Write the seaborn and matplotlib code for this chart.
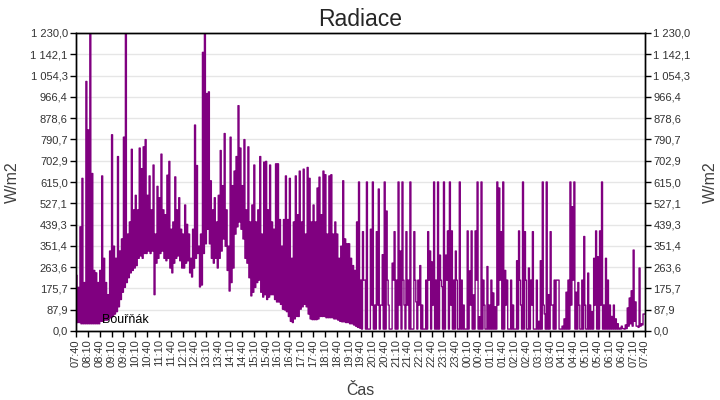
import numpy as np
import pandas as pd
import matplotlib
matplotlib.use('Agg')
import matplotlib.pyplot as plt
import seaborn as sns

# radiace W/m2, po 5 minutach od 07:40: maximum a minimum v kazdem useku
rano_max = [230, 180, 430, 630, 200, 1030,
            830, 1230, 650, 250, 240, 200,
            250, 640, 300, 200, 150, 330,
            810, 350, 300, 720, 330, 380,
            800, 1230, 400, 450, 750, 500,
            560, 500, 755, 670, 760, 790,
            560, 640, 500, 685, 400, 597,
            550, 730, 500, 480, 643, 700,
            420, 450, 636, 500, 550, 420,
            400, 520, 440, 400, 300, 420,
            850, 683, 350, 400, 1150, 1230,
            980, 987, 620, 500, 550, 450]
rano_min = [35, 35, 30, 30, 30, 30,
            30, 30, 30, 30, 30, 30,
            40, 40, 45, 45, 50, 55,
            60, 70, 80, 100, 130, 160,
            180, 200, 220, 240, 250, 260,
            270, 300, 310, 300, 320, 320,
            330, 320, 330, 150, 280, 300,
            320, 330, 300, 290, 300, 260,
            240, 280, 300, 310, 290, 260,
            260, 280, 290, 240, 223, 260,
            300, 320, 182, 190, 320, 360,
            420, 360, 300, 280, 300, 260]

odpoledne_max = [560, 745, 600, 815, 500, 350,
                 800, 600, 660, 720, 930, 755,
                 600, 790, 500, 760, 450, 520,
                 685, 450, 500, 720, 400, 697,
                 700, 500, 685, 450, 420, 690,
                 690, 460, 350, 460, 640, 460,
                 630, 300, 450, 640, 480, 660,
                 450, 668, 400, 675, 630, 450,
                 520, 450, 590, 635, 480, 660,
                 645, 400, 640, 645, 400, 450,
                 400, 300, 350, 620, 380, 360,
                 360, 300, 270, 250, 450, 615]
odpoledne_min = [300, 330, 380, 350, 250, 165,
                 200, 260, 400, 430, 450, 420,
                 380, 300, 280, 220, 145, 160,
                 180, 200, 210, 160, 140, 150,
                 130, 140, 150, 150, 130, 120,
                 120, 110, 90, 87, 80, 60,
                 40, 35, 50, 60, 60, 90,
                 100, 110, 100, 70, 50, 47,
                 47, 47, 50, 60, 60, 60,
                 55, 55, 55, 55, 50, 50,
                 45, 40, 38, 38, 35, 35,
                 30, 30, 25, 20, 15, 12]

noc_max = [210, 410, 210, 615, 8, 420,
           615, 107, 410, 586, 107, 315,
           615, 495, 107, 8, 280, 410,
           210, 615, 330, 615, 107, 410,
           210, 615, 8, 410, 120, 210,
           270, 107, 8, 210, 410, 330,
           285, 615, 210, 615, 313, 183,
           615, 313, 413, 615, 413, 210,
           330, 8, 615, 210, 107, 8,
           413, 248, 413, 149, 413, 615,
           59, 615, 210, 8, 266, 107,
           210, 157, 100, 615, 590, 410]
noc_min = [8, 210, 8, 8, 8, 107,
           8, 8, 107, 8, 107, 8,
           8, 210, 8, 8, 210, 8,
           8, 107, 8, 210, 8, 107,
           8, 8, 8, 210, 8, 107,
           8, 8, 8, 8, 210, 8,
           107, 8, 8, 8, 210, 8,
           8, 210, 8, 107, 8, 8,
           210, 8, 8, 8, 8, 8,
           8, 107, 8, 8, 210, 8,
           8, 8, 107, 8, 8, 8,
           8, 8, 8, 107, 210, 8]

svitani_max = [615, 250, 210, 8, 210, 107,
               8, 290, 413, 107, 615, 410,
               8, 260, 210, 410, 8, 210,
               40, 290, 615, 70, 615, 150,
               410, 107, 210, 210, 210, 8,
               20, 50, 160, 210, 615, 513,
               615, 160, 200, 8, 210, 390,
               8, 239, 107, 80, 300, 413,
               306, 413, 615, 107, 300, 210,
               107, 60, 107, 50, 30, 12,
               20, 10, 25, 95, 136, 166,
               334, 120, 20, 260, 30, 70]
svitani_min = [8, 107, 8, 8, 8, 8,
               8, 8, 210, 8, 8, 210,
               8, 8, 107, 8, 8, 8,
               8, 8, 107, 8, 8, 8,
               107, 8, 8, 210, 8, 8,
               8, 8, 8, 8, 107, 210,
               8, 8, 107, 8, 8, 107,
               8, 8, 8, 8, 107, 8,
               8, 107, 8, 8, 8, 8,
               8, 8, 8, 8, 8, 8,
               10, 8, 10, 20, 30, 20,
               40, 20, 15, 20, 25, 70]
posledni = 70

y_popisky = ['0,0', '87,9', '175,7', '263,6', '351,4', '439,3', '527,1', '615,0',
             '702,9', '790,7', '878,6', '966,4', '1 054,3', '1 142,1', '1 230,0']
y_max = 1230.0

casy = pd.date_range('2000-01-01 07:40', periods=49, freq='30min').strftime('%H:%M').tolist()

maxima = rano_max + odpoledne_max + noc_max + svitani_max
minima = rano_min + odpoledne_min + noc_min + svitani_min

# kazdy 5min usek: nejdriv maximum, v pulce minimum
minuty = []
hodnoty = []
for i, (hi, lo) in enumerate(zip(maxima, minima)):
    minuty += [i * 5, i * 5 + 2.5]
    hodnoty += [hi, lo]
minuty.append(len(maxima) * 5)
hodnoty.append(posledni)
df = pd.DataFrame({'minuta': minuty, 'radiace': hodnoty})

sns.set_style('white')
plt.rcParams['font.family'] = ['Liberation Sans', 'DejaVu Sans']

fig = plt.figure(figsize=(7.2, 4), dpi=100)
ax = fig.add_axes([76 / 720, 69 / 400, 569 / 720, 298 / 400])

sns.lineplot(data=df, x='minuta', y='radiace', color='#800080', lw=1,
             drawstyle='steps-post', ax=ax, legend=False)

y_pozice = np.linspace(0, y_max, len(y_popisky))
ax.set_xlim(0, 1440)
ax.set_ylim(0, y_max)
ax.set_xticks(np.arange(0, 1441, 30))
ax.set_xticklabels(casy, rotation=90)
ax.set_yticks(y_pozice)
ax.set_yticklabels(y_popisky)
ax.yaxis.grid(True, color='#e6e6e6', lw=1)
ax.xaxis.grid(False)
ax.set_axisbelow(True)

ax.tick_params(axis='both', direction='out', length=4, width=1, color='black',
               labelsize=8, labelcolor='#333333', bottom=True, left=True, pad=2)

ax2 = ax.twinx()
ax2.set_ylim(0, y_max)
ax2.set_yticks(y_pozice)
ax2.set_yticklabels(y_popisky)
ax2.tick_params(axis='y', direction='out', length=4, width=1, color='black',
                labelsize=8, labelcolor='#333333', right=True, pad=2)

for a in (ax, ax2):
    for s in a.spines.values():
        s.set_color('black')
        s.set_linewidth(1)

ax.set_title('Radiace', fontsize=16.5, pad=5)
ax.set_xlabel('Čas', fontsize=11.5, color='#404040')
ax.set_ylabel('W/m2', fontsize=11.5, color='#404040')
ax2.set_ylabel('W/m2', fontsize=11.5, color='#404040')
ax.xaxis.set_label_coords(0.5, -0.174)
ax.yaxis.set_label_coords(-0.098, 0.5)
ax2.yaxis.set_label_coords(1.102, 0.5)

ax.text(0.0457, 0.037, 'Bouřňák', transform=ax.transAxes, fontsize=9,
        color='black', va='center', ha='left')

plt.savefig('out.png', dpi=100)
